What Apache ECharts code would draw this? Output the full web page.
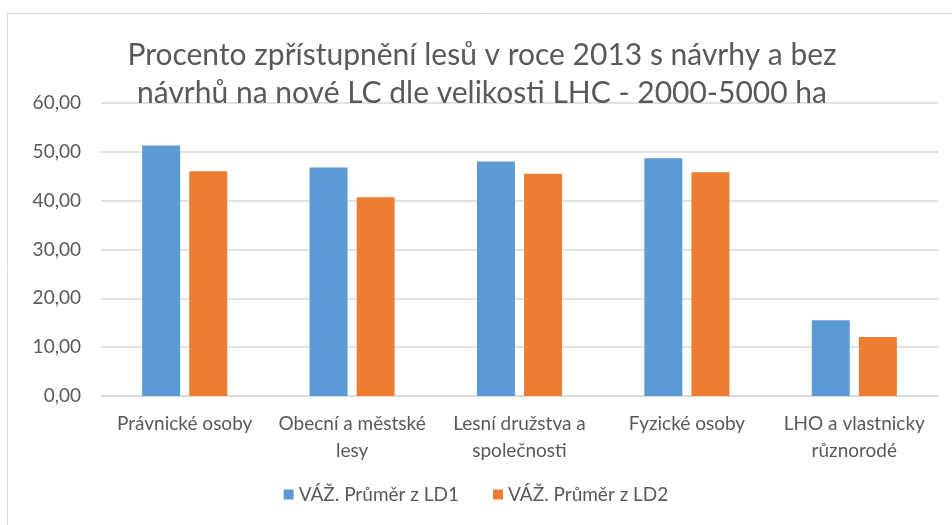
<!DOCTYPE html>
<html>
<head>
<meta charset="utf-8">
<script src="https://cdn.jsdelivr.net/npm/echarts@6/dist/echarts.min.js"></script>
<style>html,body{margin:0;padding:0;background:#fff;}#c{width:952px;height:525px;}</style>
</head>
<body>
<div id="c"></div>
<script>
const categories = ['Právnické osoby', 'Obecní a městské\nlesy', 'Lesní družstva a\nspolečnosti', 'Fyzické osoby', 'LHO a vlastnicky\nrůznorodé'];
const seriesNames = ['VÁŽ. Průměr z LD1', 'VÁŽ. Průměr z LD2'];
const ld1 = [51.3, 46.8, 48.0, 48.7, 15.5];
const ld2 = [46.0, 40.7, 45.5, 45.8, 12.1];
const yMin = 0, yMax = 60, yStep = 10;

const chart = echarts.init(document.getElementById('c'));
const txt = '#595959';
const font = 'Lato';
chart.setOption({
  animation: false,
  graphic: [{
    type: 'rect', shape: {x: 7.5, y: 13.5, width: 1000, height: 600},
    style: {fill: 'none', stroke: '#d9d9d9', lineWidth: 1}, silent: true
  }],
  title: {
    text: 'Procento zpřístupnění lesů v roce 2013 s návrhy a bez\nnávrhů na nové LC dle velikosti LHC - 2000-5000 ha',
    left: 477, top: 31, textAlign: 'center',
    textStyle: {fontFamily: font, fontSize: 30, fontWeight: 'normal', color: txt, lineHeight: 38}
  },
  legend: {
    data: seriesNames, bottom: 16, left: 'center', icon: 'rect', itemWidth: 10, itemHeight: 10, itemGap: 34,
    textStyle: {fontFamily: font, fontSize: 19, color: txt}
  },
  grid: {left: 101, right: 14, top: 103, bottom: 129},
  xAxis: {
    type: 'category', data: categories,
    axisLine: {lineStyle: {color: '#d9d9d9', width: 1.5}},
    axisTick: {show: false},
    axisLabel: {fontFamily: font, fontSize: 19, color: txt, margin: 14, lineHeight: 27, interval: 0}
  },
  yAxis: {
    type: 'value', min: yMin, max: yMax, interval: yStep,
    axisLine: {show: false}, axisTick: {show: false},
    splitLine: {lineStyle: {color: '#d9d9d9', width: 1.5}},
    axisLabel: {fontFamily: font, fontSize: 19, color: txt, margin: 20,
      formatter: v => v.toFixed(2).replace('.', ',')}
  },
  series: [
    {name: seriesNames[0], type: 'bar', data: ld1, barWidth: 38, barGap: '24%', itemStyle: {color: '#5b9bd5'}},
    {name: seriesNames[1], type: 'bar', data: ld2, barWidth: 38, barGap: '24%', itemStyle: {color: '#ed7d31'}}
  ]
});
</script>
</body>
</html>
